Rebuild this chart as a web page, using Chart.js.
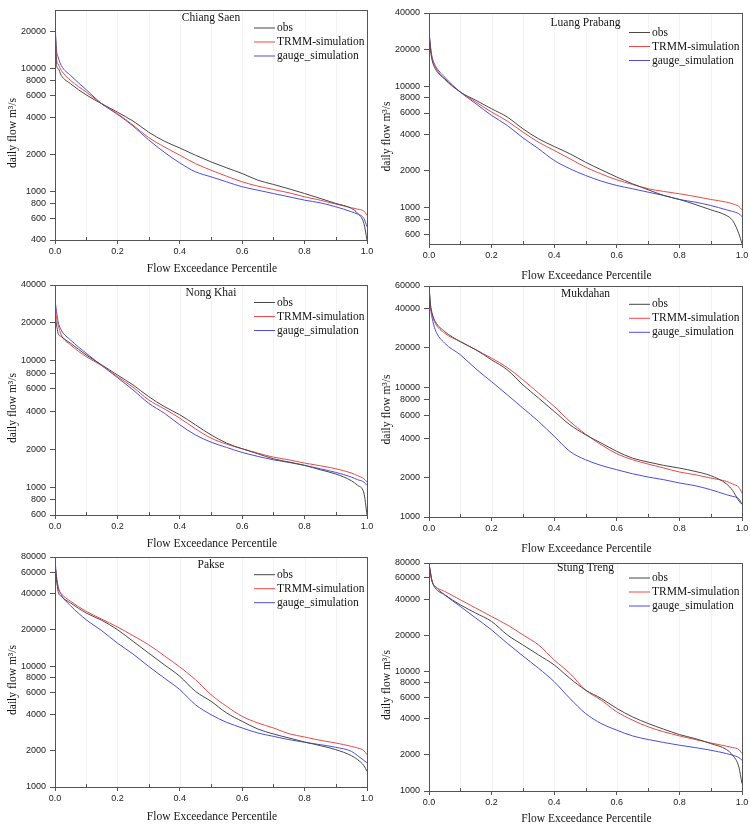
<!DOCTYPE html>
<html>
<head>
<meta charset="utf-8">
<script src="https://cdn.jsdelivr.net/npm/chart.js@4.4.1/dist/chart.umd.min.js"></script>
<style>
  html, body { margin: 0; padding: 0; background: #fff; overflow: hidden; }
  body { width: 750px; height: 825px; position: relative; }
  canvas { position: absolute; }
</style>
</head>
<body>
<canvas id="c1" width="375" height="290" style="left:0;top:0"></canvas>
<canvas id="c2" width="375" height="290" style="left:375px;top:0"></canvas>
<canvas id="c3" width="375" height="290" style="left:0;top:275px"></canvas>
<canvas id="c4" width="375" height="290" style="left:375px;top:275px"></canvas>
<canvas id="c5" width="375" height="290" style="left:0;top:550px"></canvas>
<canvas id="c6" width="375" height="290" style="left:375px;top:550px"></canvas>
<script>
// exceedance percentiles shared by every curve
const pct = [0, 0.005, 0.01, 0.02, 0.05, 0.1, 0.15, 0.2, 0.25, 0.3, 0.35, 0.4, 0.45, 0.5,
  0.55, 0.6, 0.65, 0.7, 0.75, 0.8, 0.85, 0.9, 0.95, 0.97, 0.99, 1.0];

const xTicks = [0, 0.2, 0.4, 0.6, 0.8, 1.0];
const xMinor = [0.1, 0.3, 0.5, 0.7, 0.9];
const seriesLabels = ['obs', 'TRMM-simulation', 'gauge_simulation'];

// Chiang Saen
const chiangSaenObs = [30000, 10600, 10000, 8780, 7510, 6100, 5160, 4410, 3730, 3030, 2560, 2250, 1965, 1734, 1550, 1393, 1230, 1135, 1045, 957, 873, 795, 724, 660, 546, 400];
const chiangSaenTrmm = [22000, 12000, 10900, 9640, 8000, 6430, 5160, 4290, 3460, 2740, 2300, 1965, 1680, 1483, 1325, 1192, 1100, 1033, 970, 900, 845, 785, 733, 714, 688, 638];
const chiangSaenGauge = [22000, 14000, 12400, 10600, 8780, 6720, 5160, 4230, 3400, 2620, 2080, 1700, 1440, 1310, 1192, 1086, 1019, 957, 900, 845, 804, 746, 680, 650, 600, 513];
const chiangSaenTicks = [400, 600, 800, 1000, 2000, 4000, 6000, 8000, 10000, 20000];

// Luang Prabang
const luangPrabangObs = [28800, 19700, 16300, 13900, 11500, 8930, 7630, 6500, 5560, 4450, 3680, 3180, 2770, 2360, 2045, 1780, 1567, 1400, 1256, 1164, 1059, 957, 859, 781, 607, 502];
const luangPrabangTrmm = [27000, 20300, 16800, 14400, 11350, 8930, 7380, 6110, 5150, 4180, 3450, 2950, 2520, 2150, 1890, 1690, 1548, 1426, 1355, 1297, 1232, 1164, 1107, 1072, 1019, 957];
const luangPrabangGauge = [28000, 20900, 17300, 14800, 11860, 8930, 7150, 5730, 4740, 3750, 3045, 2440, 2085, 1836, 1650, 1518, 1426, 1337, 1256, 1164, 1107, 1038, 957, 927, 887, 843];
const luangPrabangTicks = [600, 800, 1000, 2000, 4000, 6000, 8000, 10000, 20000, 40000];

// Nong Khai
const nongKhaiObs = [22400, 19300, 16560, 15600, 13800, 11150, 9290, 7740, 6450, 5220, 4350, 3740, 3115, 2590, 2230, 2010, 1836, 1675, 1578, 1485, 1371, 1268, 1122, 1031, 897, 600];
const nongKhaiTrmm = [28600, 21800, 19300, 16070, 13400, 10810, 9180, 7510, 6190, 4910, 4170, 3515, 2895, 2443, 2188, 2010, 1858, 1727, 1644, 1548, 1475, 1396, 1291, 1230, 1164, 1096];
const nongKhaiGauge = [30400, 24550, 20460, 17580, 14650, 11500, 9180, 7380, 5890, 4620, 3855, 3115, 2590, 2270, 2060, 1880, 1750, 1644, 1567, 1485, 1396, 1306, 1200, 1143, 1096, 1031];
const nongKhaiTicks = [600, 800, 1000, 2000, 4000, 6000, 8000, 10000, 20000, 40000];

// Mukdahan
const mukdahanObs = [60000, 42900, 37000, 32000, 26800, 22400, 19360, 16200, 13580, 10410, 8230, 6500, 5130, 4300, 3710, 3200, 2840, 2650, 2495, 2380, 2245, 2080, 1800, 1600, 1330, 1250];
const mukdahanTrmm = [45000, 40500, 36000, 31000, 26000, 22400, 19360, 16700, 14150, 11380, 8990, 7100, 5440, 4350, 3600, 3070, 2760, 2557, 2384, 2220, 2117, 1995, 1880, 1794, 1691, 1530];
const mukdahanGauge = [60000, 40500, 34000, 27600, 21800, 17740, 13800, 11000, 8730, 6890, 5440, 4180, 3200, 2760, 2495, 2310, 2153, 2030, 1937, 1827, 1742, 1623, 1486, 1442, 1383, 1259];
const mukdahanTicks = [1000, 2000, 4000, 6000, 8000, 10000, 20000, 40000, 60000];

// Pakse
const pakseObs = [71000, 51900, 41600, 37800, 33300, 27500, 23950, 20050, 16050, 12840, 10280, 8240, 6190, 5120, 4100, 3490, 3020, 2745, 2545, 2357, 2200, 2037, 1817, 1683, 1502, 1348];
const pakseTrmm = [69000, 51900, 44300, 39800, 34400, 28400, 24500, 21100, 17880, 15050, 12200, 9850, 7730, 5810, 4650, 3840, 3390, 3080, 2760, 2593, 2434, 2312, 2170, 2102, 2000, 1852];
const pakseGauge = [76000, 55400, 45750, 39000, 31600, 24200, 19630, 15520, 12600, 9960, 7980, 6390, 4800, 3965, 3430, 3080, 2800, 2625, 2465, 2344, 2240, 2130, 1973, 1817, 1662, 1580];
const pakseTicks = [1000, 2000, 4000, 6000, 8000, 10000, 20000, 40000, 60000, 80000];

// Stung Treng
const stungTrengObs = [77400, 65900, 56100, 49400, 43400, 35800, 30500, 26000, 20100, 16560, 13670, 11280, 8720, 6960, 5930, 4890, 4160, 3660, 3280, 2960, 2740, 2490, 2219, 1990, 1588, 1152];
const stungTrengTrmm = [80000, 63800, 56100, 51000, 46400, 39450, 33600, 28600, 24360, 20100, 16560, 12400, 9600, 6960, 5740, 4580, 3905, 3435, 3120, 2885, 2690, 2520, 2365, 2305, 2219, 2055];
const stungTrengGauge = [80000, 65900, 56100, 51000, 43400, 34700, 27700, 22100, 17100, 13400, 10570, 8170, 5930, 4440, 3660, 3220, 2885, 2690, 2540, 2412, 2305, 2190, 2055, 1990, 1903, 1806];
const stungTrengTicks = [1000, 2000, 4000, 6000, 8000, 10000, 20000, 40000, 60000, 80000];

const COLORS = {
  obs: '#484848',
  trmm: '#f04848',
  gauge: '#4c4ce4',
  frame: '#555555',
  text: '#151515',
  tick: '#222222',
  grid: '#f3f3f3',
};

const SERIF = '"Liberation Serif", "Times New Roman", serif';
const SANS = '"Liberation Sans", Arial, sans-serif';
const CANVAS_W = 375;
const CANVAS_H = 290;
const X_AXIS_H = 20;

// page geometry of each plot box: [left, top, right, bottom]
const panels = [
  { id: 'c1', station: 'Chiang Saen', x0: 0, y0: 0, box: [55, 10, 367, 240], head: 8, xGap: 29,
    yMin: 400, yMax: 30000, ticks: chiangSaenTicks, series: [chiangSaenObs, chiangSaenTrmm, chiangSaenGauge] },
  { id: 'c2', station: 'Luang Prabang', x0: 375, y0: 0, box: [429, 13, 742, 244], head: 9.5, xGap: 32,
    yMin: 500, yMax: 40000, ticks: luangPrabangTicks, series: [luangPrabangObs, luangPrabangTrmm, luangPrabangGauge] },
  { id: 'c3', station: 'Nong Khai', x0: 0, y0: 275, box: [55, 285, 367, 515], head: 7.5, xGap: 29,
    yMin: 600, yMax: 40000, ticks: nongKhaiTicks, series: [nongKhaiObs, nongKhaiTrmm, nongKhaiGauge] },
  { id: 'c4', station: 'Mukdahan', x0: 375, y0: 275, box: [429, 286, 742, 517], head: 8.3, xGap: 32,
    yMin: 1000, yMax: 60000, ticks: mukdahanTicks, series: [mukdahanObs, mukdahanTrmm, mukdahanGauge] },
  { id: 'c5', station: 'Pakse', x0: 0, y0: 550, box: [55, 557, 367, 787], head: 7.7, xGap: 29.5,
    yMin: 1000, yMax: 80000, ticks: pakseTicks, series: [pakseObs, pakseTrmm, pakseGauge] },
  { id: 'c6', station: 'Stung Treng', x0: 375, y0: 550, box: [429, 563, 742, 791], head: 5, xGap: 28,
    yMin: 1000, yMax: 80000, ticks: stungTrengTicks, series: [stungTrengObs, stungTrengTrmm, stungTrengGauge] },
];

const seriesColors = [COLORS.obs, COLORS.trmm, COLORS.gauge];

const panelDecor = {
  id: 'panelDecor',
  beforeDatasetsDraw(chart) {
    const { ctx, chartArea: a, scales: { x } } = chart;
    ctx.save();
    ctx.strokeStyle = COLORS.grid;
    ctx.lineWidth = 1;
    [...xMinor, ...xTicks.slice(1, -1)].forEach((v) => {
      const px = Math.round(x.getPixelForValue(v)) + 0.5;
      ctx.beginPath();
      ctx.moveTo(px, a.top);
      ctx.lineTo(px, a.bottom);
      ctx.stroke();
    });
    ctx.restore();
  },
  afterDatasetsDraw(chart, args, opts) {
    const { ctx, chartArea: a, scales: { x } } = chart;
    const cx = (a.left + a.right) / 2;
    ctx.save();

    // frame
    ctx.strokeStyle = COLORS.frame;
    ctx.lineWidth = 1;
    ctx.strokeRect(a.left + 0.5, a.top + 0.5, a.right - a.left, a.bottom - a.top);

    // minor ticks pointing into the plot
    xMinor.forEach((v) => {
      const px = Math.round(x.getPixelForValue(v)) + 0.5;
      ctx.beginPath();
      ctx.moveTo(px, a.bottom);
      ctx.lineTo(px, a.bottom - 3);
      ctx.stroke();
    });

    ctx.fillStyle = COLORS.text;
    ctx.font = `11.5px ${SERIF}`;
    ctx.textBaseline = 'middle';

    // station name
    ctx.textAlign = 'center';
    ctx.fillText(opts.station, cx, a.top + opts.head);

    // legend
    ctx.textAlign = 'left';
    seriesLabels.forEach((label, i) => {
      const y = a.top + opts.head + 10 + i * 14;
      ctx.strokeStyle = seriesColors[i];
      ctx.beginPath();
      ctx.moveTo(a.right - 113, y);
      ctx.lineTo(a.right - 92, y);
      ctx.stroke();
      ctx.fillText(label, a.right - 90, y);
    });

    // axis titles
    ctx.textAlign = 'center';
    ctx.fillText('Flow Exceedance Percentile', cx + 1, a.bottom + opts.xGap);
    ctx.translate(a.left - 42.5, (a.top + a.bottom) / 2 + 8);
    ctx.rotate(-Math.PI / 2);
    ctx.fillText('daily flow m\u00B3/s', 0, 0);
    ctx.restore();
  },
};

function makeDataset(label, values, color) {
  return {
    label,
    data: pct.map((p, i) => ({ x: p, y: values[i] })),
    borderColor: color,
    borderWidth: 1,
    pointRadius: 0,
    fill: false,
    cubicInterpolationMode: 'monotone',
  };
}

function createPanel(p) {
  const [left, top, right, bottom] = p.box;
  const tickFont = { family: SANS, size: 9 };
  return new Chart(document.getElementById(p.id), {
    type: 'line',
    data: {
      datasets: p.series.map((vals, i) => makeDataset(seriesLabels[i], vals, seriesColors[i])),
    },
    options: {
      responsive: false,
      animation: false,
      events: [],
      layout: {
        padding: {
          left: 0,
          top: top - p.y0,
          right: p.x0 + CANVAS_W - right,
          bottom: p.y0 + CANVAS_H - bottom - X_AXIS_H,
        },
      },
      plugins: {
        legend: { display: false },
        tooltip: { enabled: false },
        panelDecor: { station: p.station, head: p.head, xGap: p.xGap },
      },
      scales: {
        x: {
          type: 'linear',
          min: 0,
          max: 1,
          afterBuildTicks: (s) => { s.ticks = xTicks.map((v) => ({ value: v })); },
          afterFit: (s) => { s.height = X_AXIS_H; s.paddingLeft = 0; s.paddingRight = 0; },
          ticks: {
            callback: (v) => Number(v).toFixed(1),
            font: tickFont,
            color: COLORS.tick,
            padding: 2,
            maxRotation: 0,
            autoSkip: false,
          },
          grid: { drawOnChartArea: false, tickLength: 4, color: COLORS.frame },
          border: { display: false },
        },
        y: {
          type: 'logarithmic',
          min: p.yMin,
          max: p.yMax,
          bounds: 'data',
          afterBuildTicks: (s) => { s.ticks = p.ticks.map((v) => ({ value: v })); },
          afterFit: (s) => { s.width = left - p.x0; s.paddingTop = 0; s.paddingBottom = 0; },
          ticks: {
            callback: (v) => String(v),
            font: tickFont,
            color: COLORS.tick,
            padding: 4,
            autoSkip: false,
          },
          grid: { drawOnChartArea: false, tickLength: 5, color: COLORS.frame },
          border: { display: false },
        },
      },
    },
    plugins: [panelDecor],
  });
}

panels.forEach(createPanel);
</script>
</body>
</html>
